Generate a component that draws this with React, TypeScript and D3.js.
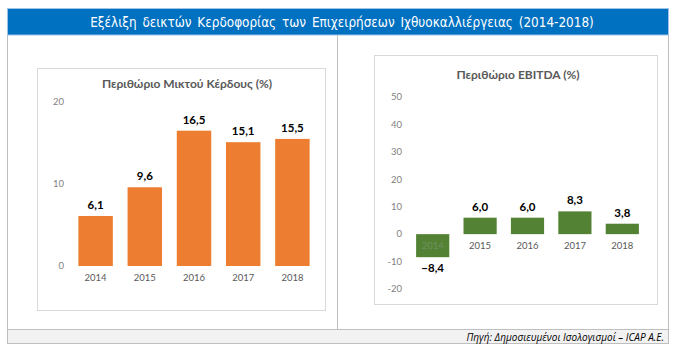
import React from 'react'
import * as d3 from 'd3'

// έτη και τιμές (%)
const years = ['2014', '2015', '2016', '2017', '2018']
const grossMargin = [6.1, 9.6, 16.5, 15.1, 15.5]
const ebitdaMargin = [-8.4, 6.0, 6.0, 8.3, 3.8]
const grossTicks = [0, 10, 20]
const ebitdaTicks = [-20, -10, 0, 10, 20, 30, 40, 50]

const W = 687, H = 360
const fmt = (v: number) => d3.format('.1f')(v).replace('.', ',')
const font = 'Lato, "Open Sans", sans-serif'

type PanelProps = {
    title: string
    values: number[]
    ticks: number[]
    domain: [number, number]
    box: [number, number, number, number]
    xr: [number, number]
    yr: [number, number]
    tickX: number
    titleX: number
    titleY: number
    color: string
}

const Panel = (p: PanelProps) => {
    const x = d3.scaleBand().domain(years).range(p.xr).paddingInner(0.3).paddingOuter(0.15)
    const y = d3.scaleLinear().domain(p.domain).range(p.yr)
    const y0 = y(0)
    return (<g>
        <rect x={p.box[0]} y={p.box[1]} width={p.box[2] - p.box[0]} height={p.box[3] - p.box[1]}
            fill="#fff" stroke="#d9d9d9" />
        <text x={p.titleX} y={p.titleY} textAnchor="middle" fontSize={12} fontWeight="bold"
            fill="#595959" fontFamily={font}>{p.title}</text>
        {p.ticks.map(t => (
            <text key={t} x={p.tickX} y={y(t)} dy="0.35em" textAnchor="end" fontSize={9.5}
                fill="#7f7f7f" fontFamily={font}>{t}</text>
        ))}
        {p.values.map((v, i) => {
            const bx = x(years[i]) ?? 0
            const top = Math.min(y(v), y0)
            const h = Math.abs(y(v) - y0)
            return (<g key={years[i]}>
                <rect x={bx} y={top} width={x.bandwidth()} height={h} fill={p.color} />
                <text x={bx + x.bandwidth() / 2} y={v >= 0 ? y(v) - 7 : y(v) + 15} textAnchor="middle"
                    fontSize={11.5} fontWeight="bold" fill="#000" fontFamily={font}>{fmt(v)}</text>
                <text x={bx + x.bandwidth() / 2} y={y0 + 16} dy="-0.1em" textAnchor="middle" fontSize={9.5}
                    fill={v < 0 ? '#6f8f5f' : '#595959'} fontFamily={font}>{years[i]}</text>
            </g>)
        })}
    </g>)
}

const App = () => {
    return (
        <svg width={W} height={H} style={{ position: 'absolute', left: 0, top: 0, background: '#fff' }}>
            {/* πλαίσιο */}
            <rect x={7.5} y={8.5} width={661} height={335} fill="#fff" stroke="#bfbfbf" />
            <rect x={7.5} y={8.5} width={661} height={26.5} fill="#0070c0" stroke="#9dc3e6" />
            <text x={342} y={22} dy="0.35em" textAnchor="middle" fill="#fff" fontSize={13.4}
                fontFamily='"DejaVu Sans Condensed", sans-serif' wordSpacing={2}>
                Εξέλιξη δεικτών Κερδοφορίας των Επιχειρήσεων Ιχθυοκαλλιέργειας (2014-2018)
            </text>
            <line x1={337.5} x2={337.5} y1={35} y2={329} stroke="#bfbfbf" />
            <rect x={7.5} y={329.5} width={661} height={14} fill="#f2f2f2" stroke="#bfbfbf" />
            <text x={664} y={337} dy="0.35em" textAnchor="end" fontSize={10} fontStyle="italic"
                fill="#000" fontFamily='"Open Sans", sans-serif'>
                Πηγή: Δημοσιευμένοι Ισολογισμοί – ICAP A.E.
            </text>

            <Panel title="Περιθώριο Μικτού Κέρδους (%)" values={grossMargin} ticks={grossTicks}
                domain={[0, 20]} box={[37.5, 68.5, 325.5, 310.5]} xr={[71, 317]} yr={[266, 102]}
                tickX={64} titleX={187} titleY={88} color="#ed7d31" />
            <Panel title="Περιθώριο EBITDA (%)" values={ebitdaMargin} ticks={ebitdaTicks}
                domain={[-20, 50]} box={[374.5, 55.5, 657.5, 304.5]} xr={[409, 646]} yr={[289, 97]}
                tickX={402} titleX={518} titleY={79} color="#548235" />
        </svg>
    )
}

export default App
